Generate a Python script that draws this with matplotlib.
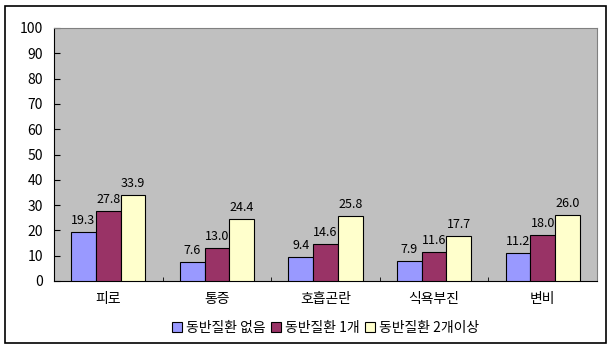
import numpy as np
import matplotlib
matplotlib.use("Agg")
import matplotlib.pyplot as plt
from matplotlib.patches import Rectangle

plt.rcParams['font.family'] = ['Noto Sans CJK KR', 'DejaVu Sans']

categories = ['피로', '통증', '호흡곤란', '식욕부진', '변비']
series_names = ['동반질환 없음', '동반질환 1개', '동반질환 2개이상']
none_vals = [19.3, 7.6, 9.4, 7.9, 11.2]
one_vals = [27.8, 13.0, 14.6, 11.6, 18.0]
two_vals = [33.9, 24.4, 25.8, 17.7, 26.0]
colors = ['#9999FF', '#993366', '#FFFFCC']

fig = plt.figure(figsize=(6.12, 3.54), dpi=100)
# outer chart frame
fig.patches.append(Rectangle((5 / 612, 1 - 343 / 354), 601 / 612, 337 / 354,
                             transform=fig.transFigure, fill=False,
                             edgecolor='black', linewidth=1.2))

ax = fig.add_axes([54 / 612, 1 - 281 / 354, 543 / 612, 253 / 354])
ax.set_facecolor('#C0C0C0')

x = np.arange(len(categories))
w = 0.228
for i, (vals, name) in enumerate(zip([none_vals, one_vals, two_vals], series_names)):
    pos = x + (i - 1) * w
    ax.bar(pos, vals, width=w, color=colors[i], edgecolor='black',
           linewidth=0.8, label=name, zorder=3)
    for p, v in zip(pos, vals):
        ax.text(p, v + 2, f'{v:.1f}', ha='center', va='bottom', fontsize=9)

ax.set_xlim(-0.5, len(categories) - 0.5)
ax.set_ylim(0, 100)
ax.set_yticks(range(0, 101, 10))
ax.tick_params(axis='y', direction='in', length=4, labelsize=10, pad=8)
ax.set_xticks(x)
ax.set_xticklabels(categories, fontsize=10)
ax.tick_params(axis='x', length=0, pad=8)
ax.set_xticks(np.arange(len(categories) + 1) - 0.5, minor=True)
ax.tick_params(axis='x', which='minor', direction='in', length=3)

for side in ['top', 'right']:
    ax.spines[side].set_color('#808080')
for side in ['left', 'bottom']:
    ax.spines[side].set_color('black')

fig.legend(loc='center', bbox_to_anchor=(0.532, 1 - 328 / 354), ncol=3,
           frameon=False, fontsize=10, handlelength=0.7, handleheight=0.7,
           handletextpad=0.3, columnspacing=0.4)

fig.savefig('out.png', dpi=100)
